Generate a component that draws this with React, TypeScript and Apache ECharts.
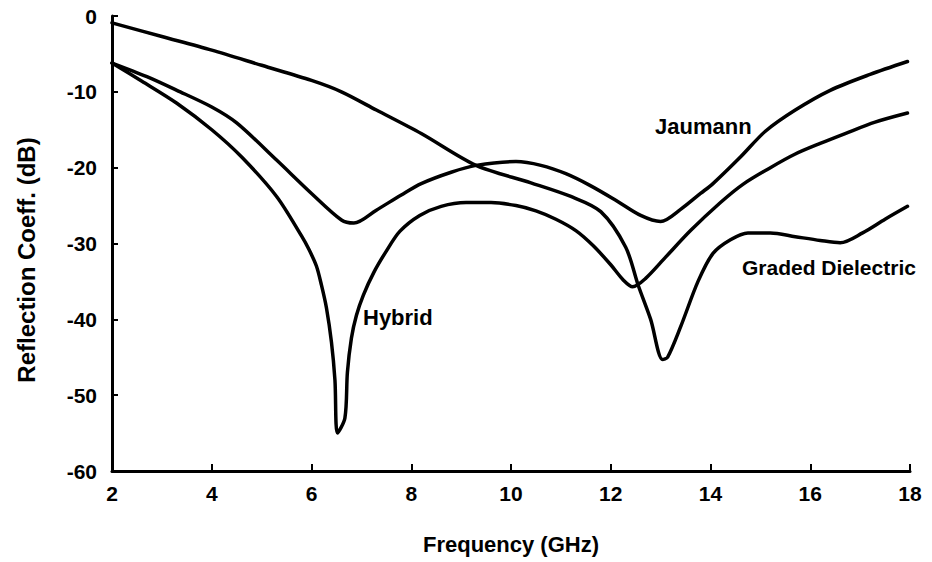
import React, { useEffect, useRef } from "react";
import * as echarts from "echarts";

const xTicks = [2, 4, 6, 8, 10, 12, 14, 16, 18];
const yTicks = [-60, -50, -40, -30, -20, -10, 0];

const gradedDielectric: [number, number][] = [
  [2, -0.9], [3, -2.7], [4, -4.5], [5, -6.5], [6, -8.5], [6.6, -10], [7.3, -12.4],
  [8.2, -15.5], [9.3, -19.7], [10.4, -22], [11.2, -23.8], [11.8, -25.8], [12.3, -30.5],
  [12.55, -35.5], [12.8, -40], [13.04, -45.3], [13.14, -45], [13.4, -41], [13.75, -35],
  [14.05, -31.3], [14.4, -29.5], [14.75, -28.6], [15.2, -28.6], [15.7, -29.1],
  [16.2, -29.6], [16.6, -29.9], [17.05, -28.6], [17.5, -26.8], [17.95, -25.1],
];

const jaumann: [number, number][] = [
  [2, -6.2], [2.7, -8], [3.3, -9.8], [4, -12], [4.5, -14.1], [5.3, -19], [6, -23.4],
  [6.6, -26.9], [6.85, -27.3], [7.3, -25.6], [7.8, -23.6], [8.2, -22.1], [8.8, -20.6],
  [9.3, -19.7], [10.1, -19.2], [10.6, -19.7], [11.1, -20.8], [11.6, -22.4], [12.1, -24.3],
  [12.6, -26.3], [13, -27.1], [13.4, -25.5], [13.8, -23.4], [14.05, -22.1], [14.6, -18.6],
  [15.1, -15.2], [15.7, -12.4], [16.4, -9.8], [17.2, -7.7], [17.95, -6.0],
];

const hybrid: [number, number][] = [
  [2, -6.2], [2.6, -8.6], [3.3, -11.5], [4, -15], [4.6, -18.6], [5.3, -23.8], [5.8, -29],
  [5.95, -30.8], [6.1, -33], [6.2, -35.5], [6.3, -38.5], [6.4, -43], [6.47, -48],
  [6.52, -55], [6.67, -53], [6.72, -47], [6.8, -42.5], [6.9, -39.5], [7.04, -36.8],
  [7.25, -33.8], [7.5, -31], [7.77, -28.4], [8.17, -26.3], [8.6, -25.1], [9.1, -24.6],
  [9.6, -24.6], [10.1, -25], [10.5, -25.7], [10.9, -26.8], [11.3, -28.3], [11.65, -30.3],
  [12, -32.8], [12.25, -34.8], [12.44, -35.7], [12.7, -34.6], [13.1, -31.8], [13.6, -28.3],
  [14.2, -24.6], [14.65, -22.2], [15.2, -20], [15.7, -18.2], [16.2, -16.8], [16.7, -15.5],
  [17.3, -14], [17.95, -12.8],
];

const seriesNames = ["Graded Dielectric", "Jaumann", "Hybrid"];

const FONT = "'Liberation Sans', Arial, Helvetica, sans-serif";

export default function App() {
  const ref = useRef<HTMLDivElement>(null);
  useEffect(() => {
    document.body.style.margin = "0";
    if (!ref.current) return;
    const chart = echarts.init(ref.current, undefined, { renderer: "svg" });
    const lineSeries = (name: string, data: [number, number][]) => ({
      name,
      type: "line",
      data,
      smooth: 0.3,
      showSymbol: false,
      symbol: "none",
      lineStyle: { color: "#000", width: 3.5, join: "round", cap: "round" },
      z: 3,
    });
    chart.setOption({
      animation: false,
      backgroundColor: "#fff",
      grid: { left: 112, right: 22, top: 16, bottom: 91, containLabel: false },
      xAxis: {
        type: "value",
        min: xTicks[0],
        max: xTicks[xTicks.length - 1],
        interval: 2,
        name: "Frequency (GHz)",
        nameLocation: "middle",
        nameGap: 62,
        nameTextStyle: { fontFamily: FONT, fontSize: 22, fontWeight: "bold", color: "#000" },
        axisLine: { show: true, onZero: false, lineStyle: { color: "#000", width: 3 } },
        axisTick: { show: true, inside: true, length: 7, lineStyle: { color: "#000", width: 2 } },
        axisLabel: { margin: 12, fontFamily: FONT, fontSize: 21, fontWeight: "bold", color: "#000" },
        splitLine: { show: false },
      },
      yAxis: {
        type: "value",
        min: yTicks[0],
        max: yTicks[yTicks.length - 1],
        interval: 10,
        axisLine: { show: true, onZero: false, lineStyle: { color: "#000", width: 3 } },
        axisTick: { show: true, inside: true, length: 6, lineStyle: { color: "#000", width: 2 } },
        axisLabel: { margin: 15, fontFamily: FONT, fontSize: 21, fontWeight: "bold", color: "#000" },
        splitLine: { show: false },
      },
      series: [
        lineSeries(seriesNames[0], gradedDielectric),
        lineSeries(seriesNames[1], jaumann),
        lineSeries(seriesNames[2], hybrid),
      ],
      graphic: [
        {
          type: "text",
          x: 26,
          y: 260,
          rotation: Math.PI / 2,
          style: {
            text: "Reflection Coeff. (dB)",
            fontFamily: FONT,
            fontSize: 24,
            fontWeight: "bold",
            fill: "#000",
            align: "center",
            verticalAlign: "middle",
          },
        },
        {
          type: "text",
          x: 655,
          y: 126,
          style: { text: seriesNames[1], fontFamily: FONT, fontSize: 22, fontWeight: "bold", fill: "#000", align: "left", verticalAlign: "middle" },
        },
        {
          type: "text",
          x: 742,
          y: 267,
          style: { text: seriesNames[0], fontFamily: FONT, fontSize: 21, fontWeight: "bold", fill: "#000", align: "left", verticalAlign: "middle" },
        },
        {
          type: "text",
          x: 363,
          y: 317,
          style: { text: seriesNames[2], fontFamily: FONT, fontSize: 22, fontWeight: "bold", fill: "#000", align: "left", verticalAlign: "middle" },
        },
      ],
    });
    return () => chart.dispose();
  }, []);
  return <div ref={ref} style={{ width: 932, height: 562 }} />;
}
